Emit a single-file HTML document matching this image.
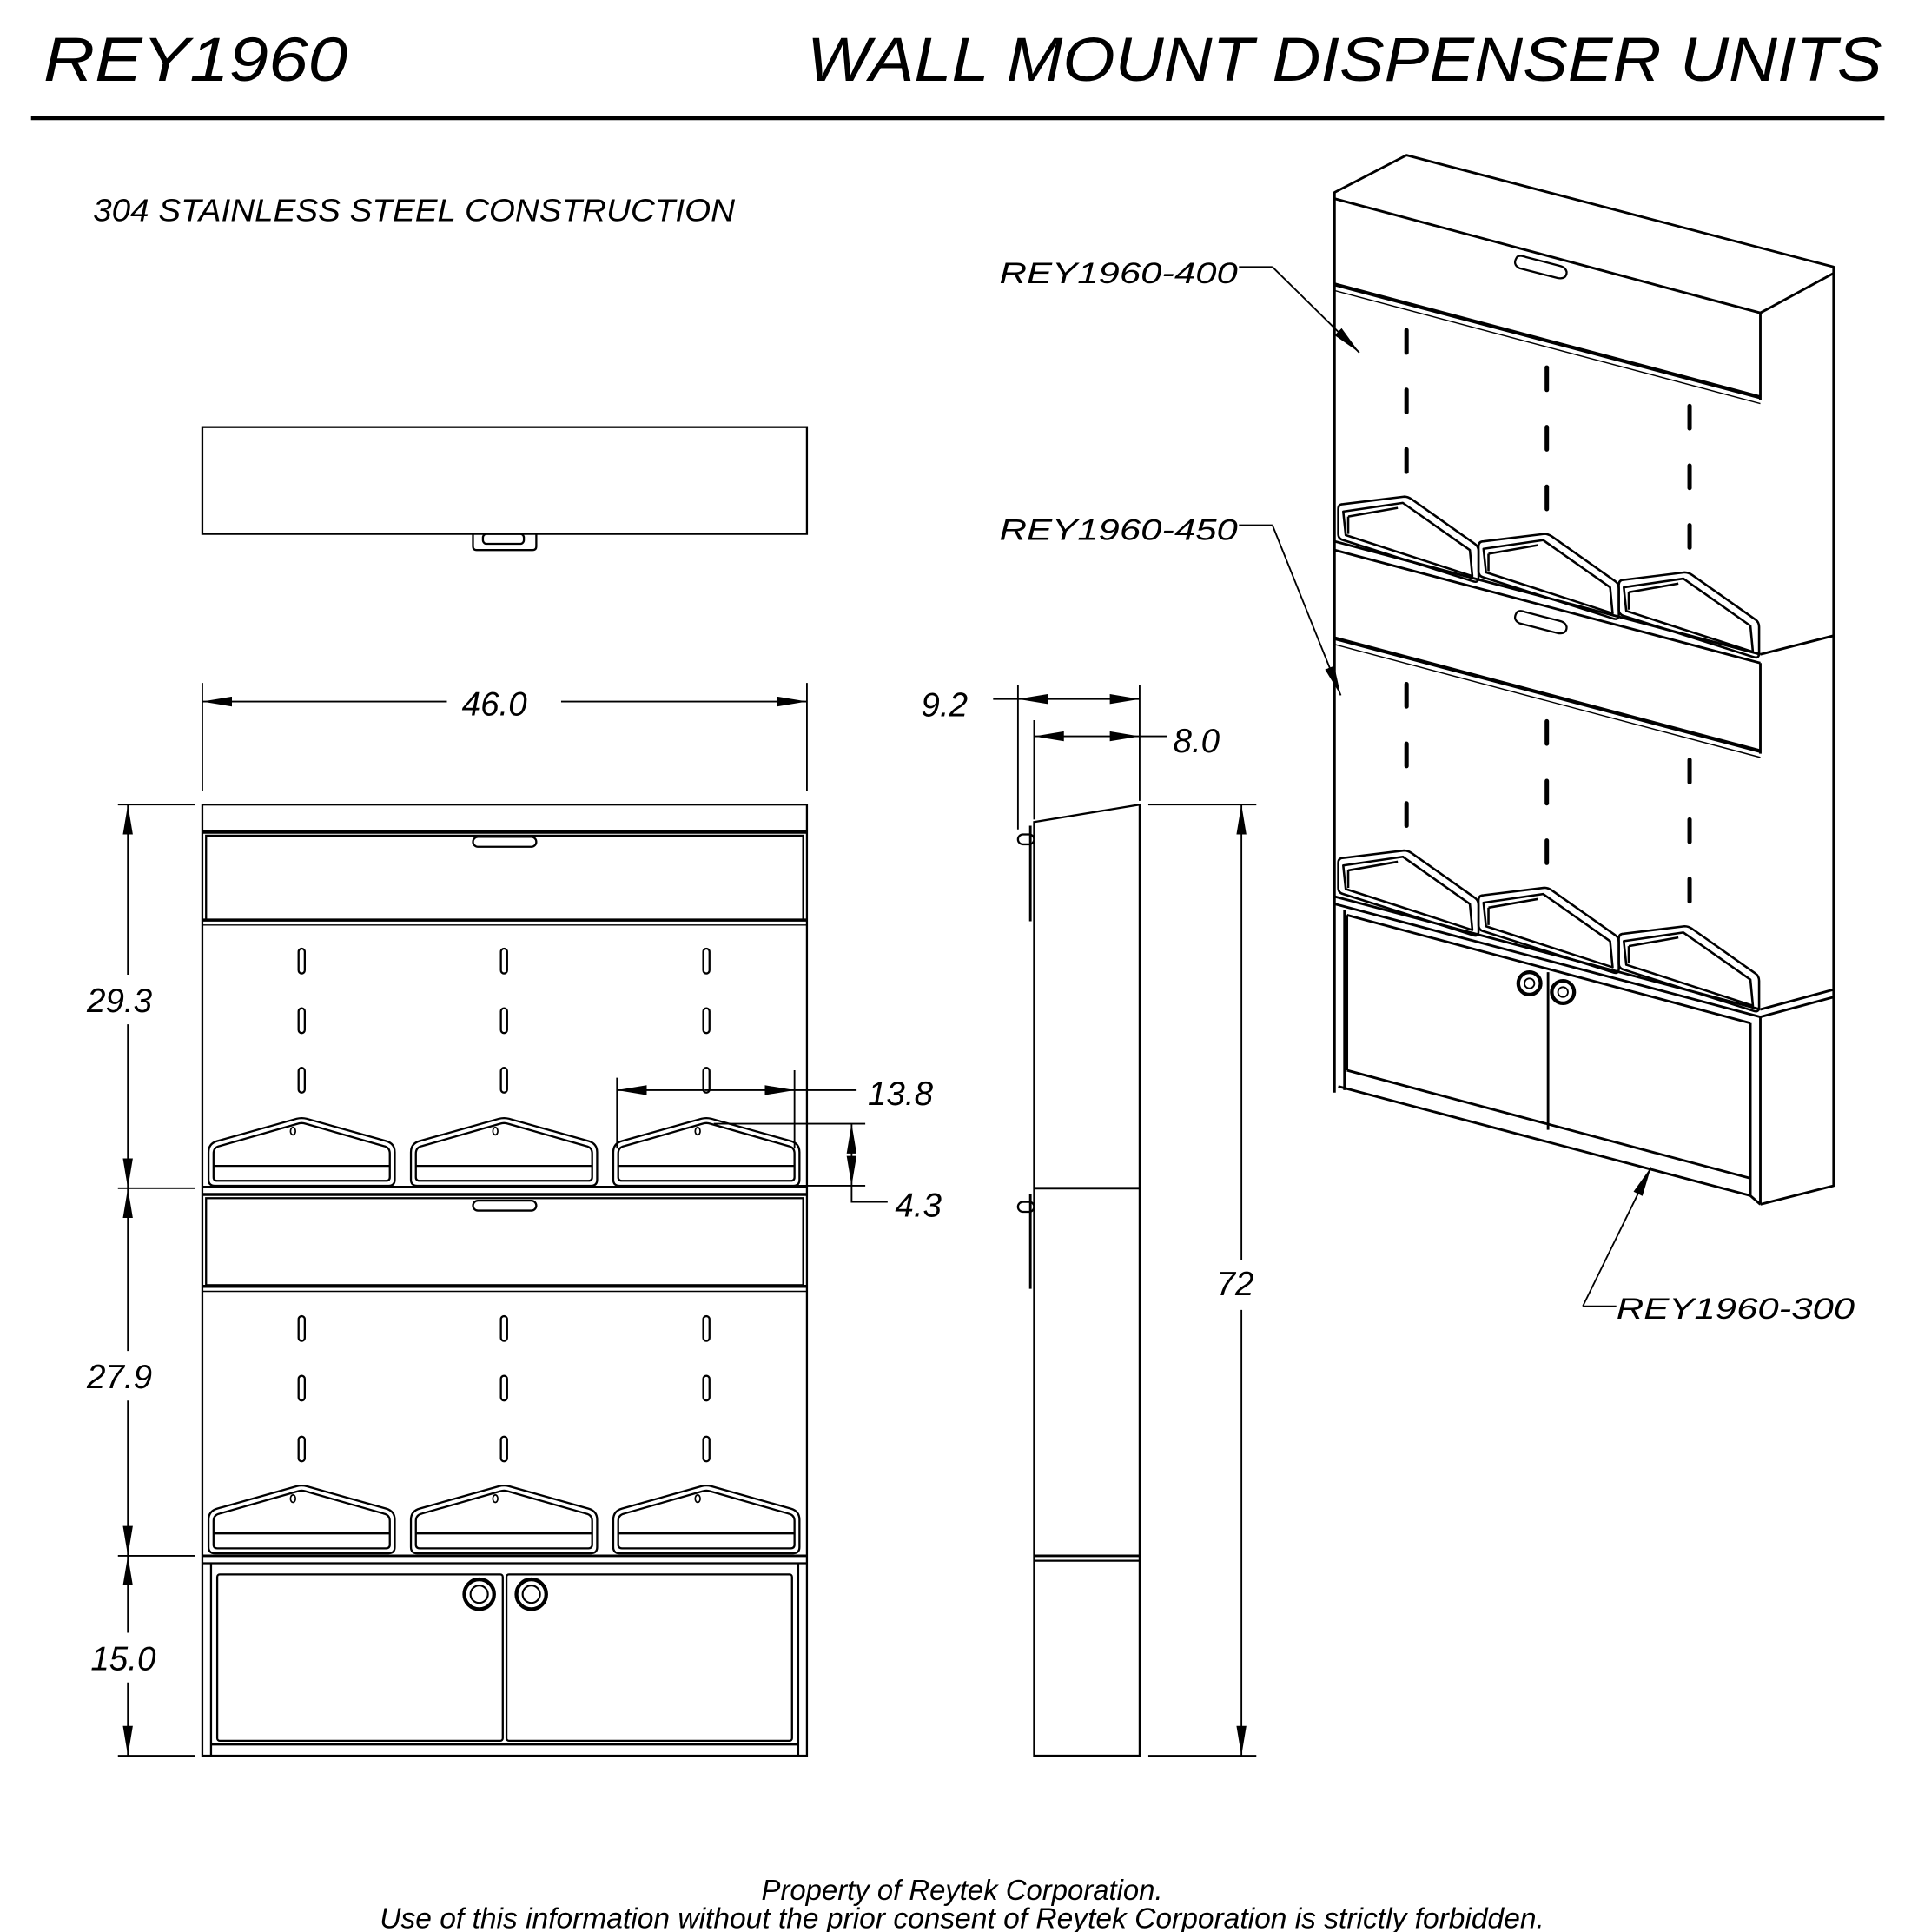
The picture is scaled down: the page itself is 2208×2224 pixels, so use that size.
<!DOCTYPE html>
<html><head><meta charset="utf-8"><style>
html,body{margin:0;padding:0;background:#fff;}
svg{display:block;}
text{font-family:"Liberation Sans",sans-serif;font-style:italic;fill:#000;}
</style></head><body>
<svg width="2208" height="2224" viewBox="0 0 1545 1556" preserveAspectRatio="none" xmlns="http://www.w3.org/2000/svg">
<defs>
<marker id="ar" viewBox="0 0 24 8" refX="24" refY="4" markerWidth="24" markerHeight="8" markerUnits="userSpaceOnUse" orient="auto-start-reverse">
<path d="M0,0 L24,4 L0,8 Z" fill="#000"/></marker>
<g id="tray" fill="none" stroke="#000">
<path d="M2,50 L2,28 Q2,21 9,19 L73,1 Q77,0 81,1 L145,19 Q152,21 152,28 L152,50 Q152,55 147,55 L7,55 Q2,55 2,50 Z" stroke-width="1.6"/>
<path d="M6,48 L6,29 Q6,24 11,23 L74,5 Q77,4 80,5 L143,23 Q148,24 148,29 L148,48 Q148,51 145,51 L9,51 Q6,51 6,48 Z" stroke-width="1.6"/>
<line x1="6" y1="39" x2="148" y2="39" stroke-width="1.6"/>
<ellipse cx="70" cy="11" rx="2" ry="3" stroke-width="1.2"/>
</g>
<g id="slot"><rect x="-2.5" y="0" width="5" height="20" rx="2.5" fill="none" stroke="#000" stroke-width="1.6"/></g>
<g id="itray" fill="none" stroke="#000" stroke-width="1.8" stroke-linejoin="round">
<path d="M2,10 Q2,6 6,6 L55,0 Q58,0 61,2 L112,38 Q115,40 115,44 L115,65 Q115,70 110,68 L6,35 Q2,34 2,30 Z"/>
<path d="M6,12 L54,5 L108,43 L110,64 L8,31 Z"/>
<path d="M10,16 L10,30 M10,16 L50,9"/>
</g>
<g id="islot" fill="none" stroke="#000" stroke-width="3.5" stroke-linecap="round">
<line x1="0" y1="0" x2="0" y2="18"/><line x1="0" y1="48" x2="0" y2="66"/><line x1="0" y1="96" x2="0" y2="114"/>
</g>
</defs>

<text x="35" y="65" font-size="50" textLength="245" lengthAdjust="spacingAndGlyphs">REY1960</text>
<text x="650" y="65" font-size="50" textLength="866" lengthAdjust="spacingAndGlyphs">WALL MOUNT DISPENSER UNITS</text>
<line x1="25" y1="95" x2="1518" y2="95" stroke="#000" stroke-width="3.5"/>
<text x="75" y="178" font-size="25" textLength="517" lengthAdjust="spacingAndGlyphs">304 STAINLESS STEEL CONSTRUCTION</text>

<g fill="none" stroke="#000" stroke-width="1.6">
<rect x="163" y="344" width="487" height="86"/>
<path d="M381,430 L381,440 Q381,443 384,443 L429,443 Q432,443 432,440 L432,430"/>
<rect x="389" y="430" width="33" height="8" rx="3"/>
</g>

<g fill="none" stroke="#000" stroke-width="1.6">
<rect x="163" y="648" width="487" height="766"/>
<line x1="163" y1="670" x2="650" y2="670" stroke-width="3"/>
<rect x="166" y="673" width="481" height="68"/>
<rect x="381" y="674" width="51" height="8" rx="4"/>
<line x1="163" y1="741" x2="650" y2="741" stroke-width="2.5"/>
<line x1="163" y1="745" x2="650" y2="745" stroke-width="1"/>
<line x1="163" y1="956" x2="650" y2="956" stroke-width="2"/>
<line x1="163" y1="962" x2="650" y2="962" stroke-width="2.5"/>
<rect x="166" y="965" width="481" height="70"/>
<rect x="381" y="967" width="51" height="8" rx="4"/>
<line x1="163" y1="1036" x2="650" y2="1036" stroke-width="2.5"/>
<line x1="163" y1="1040" x2="650" y2="1040" stroke-width="1"/>
<line x1="163" y1="1253" x2="650" y2="1253" stroke-width="2"/>
<line x1="163" y1="1259" x2="650" y2="1259" stroke-width="1.5"/>
<line x1="170" y1="1259" x2="170" y2="1414"/>
<line x1="643" y1="1259" x2="643" y2="1414"/>
<rect x="175" y="1268" width="230" height="134" rx="2"/>
<rect x="408" y="1268" width="230" height="134" rx="2"/>
<line x1="170" y1="1405" x2="643" y2="1405"/>
</g>
<g fill="none" stroke="#000">
<circle cx="386" cy="1284" r="12" stroke-width="3"/><circle cx="386" cy="1284" r="7" stroke-width="1.5"/>
<circle cx="428" cy="1284" r="12" stroke-width="3"/><circle cx="428" cy="1284" r="7" stroke-width="1.5"/>
</g>
<use href="#slot" x="243" y="764"/><use href="#slot" x="243" y="812"/><use href="#slot" x="243" y="860"/>
<use href="#slot" x="406" y="764"/><use href="#slot" x="406" y="812"/><use href="#slot" x="406" y="860"/>
<use href="#slot" x="569" y="764"/><use href="#slot" x="569" y="812"/><use href="#slot" x="569" y="860"/>
<use href="#slot" x="243" y="1060"/><use href="#slot" x="243" y="1108"/><use href="#slot" x="243" y="1157"/>
<use href="#slot" x="406" y="1060"/><use href="#slot" x="406" y="1108"/><use href="#slot" x="406" y="1157"/>
<use href="#slot" x="569" y="1060"/><use href="#slot" x="569" y="1108"/><use href="#slot" x="569" y="1157"/>
<use href="#tray" x="166" y="900"/><use href="#tray" x="329" y="900"/><use href="#tray" x="492" y="900"/>
<use href="#tray" x="166" y="1196"/><use href="#tray" x="329" y="1196"/><use href="#tray" x="492" y="1196"/>

<g stroke="#000" stroke-width="1.3" fill="none">
<line x1="163" y1="550" x2="163" y2="637"/><line x1="650" y1="550" x2="650" y2="637"/>
<line x1="163" y1="565" x2="360" y2="565" marker-start="url(#ar)"/>
<line x1="452" y1="565" x2="650" y2="565" marker-end="url(#ar)"/>
<line x1="95" y1="648" x2="157" y2="648"/><line x1="95" y1="957" x2="157" y2="957"/>
<line x1="95" y1="1253" x2="157" y2="1253"/><line x1="95" y1="1414" x2="157" y2="1414"/>
<line x1="103" y1="648" x2="103" y2="785" marker-start="url(#ar)"/>
<line x1="103" y1="825" x2="103" y2="957" marker-end="url(#ar)"/>
<line x1="103" y1="957" x2="103" y2="1088" marker-start="url(#ar)"/>
<line x1="103" y1="1128" x2="103" y2="1253" marker-end="url(#ar)"/>
<line x1="103" y1="1253" x2="103" y2="1315" marker-start="url(#ar)"/>
<line x1="103" y1="1355" x2="103" y2="1414" marker-end="url(#ar)"/>
<line x1="497" y1="868" x2="497" y2="925"/><line x1="640" y1="862" x2="640" y2="925"/>
<line x1="497" y1="878" x2="568" y2="878" marker-start="url(#ar)"/>
<line x1="568" y1="878" x2="640" y2="878" marker-end="url(#ar)"/>
<line x1="640" y1="878" x2="690" y2="878"/>
<line x1="575" y1="905" x2="697" y2="905"/><line x1="640" y1="955" x2="697" y2="955"/>
<line x1="686" y1="905" x2="686" y2="930" marker-start="url(#ar)"/>
<line x1="686" y1="930" x2="686" y2="955" marker-end="url(#ar)"/>
<polyline points="686,955 686,968 715,968"/>
</g>
<text x="372" y="576" font-size="27">46.0</text>
<text x="70" y="815" font-size="27">29.3</text>
<text x="70" y="1118" font-size="27">27.9</text>
<text x="73" y="1345" font-size="27">15.0</text>
<text x="699" y="890" font-size="27">13.8</text>
<text x="721" y="980" font-size="27">4.3</text>

<g fill="none" stroke="#000" stroke-width="1.6">
<polygon points="833,662 918,648 918,1414 833,1414"/>
<line x1="833" y1="957" x2="918" y2="957" stroke-width="2"/>
<line x1="833" y1="1253" x2="918" y2="1253" stroke-width="2"/>
<line x1="833" y1="1257" x2="918" y2="1257"/>
<line x1="830" y1="665" x2="830" y2="742" stroke-width="2"/>
<line x1="830" y1="962" x2="830" y2="1038" stroke-width="2"/>
<rect x="820" y="672" width="13" height="8" rx="4"/>
<rect x="820" y="968" width="13" height="8" rx="4"/>
</g>
<g stroke="#000" stroke-width="1.3" fill="none">
<line x1="820" y1="552" x2="820" y2="668"/><line x1="833" y1="580" x2="833" y2="660"/><line x1="918" y1="552" x2="918" y2="645"/>
<line x1="800" y1="563" x2="820" y2="563"/>
<line x1="820" y1="563" x2="918" y2="563" marker-start="url(#ar)" marker-end="url(#ar)"/>
<line x1="833" y1="593" x2="918" y2="593" marker-start="url(#ar)" marker-end="url(#ar)"/>
<line x1="918" y1="593" x2="940" y2="593"/>
<line x1="925" y1="648" x2="1012" y2="648"/><line x1="925" y1="1414" x2="1012" y2="1414"/>
<line x1="1000" y1="648" x2="1000" y2="1015" marker-start="url(#ar)"/>
<line x1="1000" y1="1055" x2="1000" y2="1414" marker-end="url(#ar)"/>
</g>
<text x="742" y="577" font-size="27">9.2</text>
<text x="945" y="606" font-size="27">8.0</text>
<text x="980" y="1043" font-size="27">72</text>

<g fill="none" stroke="#000" stroke-width="2" stroke-linejoin="round">
<polyline points="1075,880 1075,155 1133,125 1477,215 1477,955 1418,970"/>
<line x1="1075" y1="160" x2="1418" y2="252"/>
<line x1="1418" y1="252" x2="1477" y2="220"/>
<line x1="1418" y1="252" x2="1418" y2="322"/>
<line x1="1075" y1="229" x2="1418" y2="320" stroke-width="3"/>
<line x1="1075" y1="234" x2="1418" y2="325" stroke-width="1"/>
<path d="M1222,207 Q1218,213 1224,216 L1255,224 Q1262,225 1262,219 Q1261,215 1256,214 L1229,207 Q1224,205 1222,207 Z" stroke-width="1.6"/>
<line x1="1075" y1="436" x2="1418" y2="527"/>
<line x1="1075" y1="443" x2="1418" y2="534"/>
<polyline points="1418,527 1477,512"/>
<line x1="1418" y1="534" x2="1418" y2="607"/>
<line x1="1075" y1="514" x2="1418" y2="605" stroke-width="3"/>
<line x1="1075" y1="519" x2="1418" y2="610" stroke-width="1"/>
<path d="M1222,493 Q1218,499 1224,502 L1255,510 Q1262,511 1262,505 Q1261,501 1256,500 L1229,493 Q1224,491 1222,493 Z" stroke-width="1.6"/>
<line x1="1075" y1="722" x2="1418" y2="813"/>
<line x1="1075" y1="728" x2="1418" y2="819"/>
<line x1="1418" y1="813" x2="1477" y2="797"/>
<line x1="1418" y1="819" x2="1477" y2="803"/>
<line x1="1083" y1="733" x2="1083" y2="878"/>
<line x1="1085" y1="737" x2="1410" y2="824"/>
<line x1="1085" y1="737" x2="1085" y2="862"/>
<line x1="1085" y1="862" x2="1410" y2="949"/>
<line x1="1078" y1="875" x2="1410" y2="963"/>
<line x1="1410" y1="824" x2="1410" y2="963"/>
<line x1="1418" y1="819" x2="1418" y2="970"/>
<line x1="1410" y1="963" x2="1418" y2="970"/>
<line x1="1247" y1="783" x2="1247" y2="910"/>
<circle cx="1232" cy="792" r="9" stroke-width="3"/><circle cx="1232" cy="792" r="4" stroke-width="1.3"/>
<circle cx="1259" cy="799" r="9" stroke-width="3"/><circle cx="1259" cy="799" r="4" stroke-width="1.3"/>
</g>
<use href="#islot" x="1133" y="266"/><use href="#islot" x="1246" y="296"/><use href="#islot" x="1361" y="327"/>
<use href="#islot" x="1133" y="551"/><use href="#islot" x="1246" y="581"/><use href="#islot" x="1361" y="612"/>
<use href="#itray" x="1076" y="400"/><use href="#itray" x="1189" y="430"/><use href="#itray" x="1302" y="461"/>
<use href="#itray" x="1076" y="685"/><use href="#itray" x="1189" y="715"/><use href="#itray" x="1302" y="746"/>

<g stroke="#000" stroke-width="1.3" fill="none">
<polyline points="998,215 1025,215"/><line x1="1025" y1="215" x2="1095" y2="284" marker-end="url(#ar)"/>
<polyline points="998,423 1025,423"/><line x1="1025" y1="423" x2="1080" y2="560" marker-end="url(#ar)"/>
<polyline points="1302,1052 1275,1052"/><line x1="1275" y1="1052" x2="1330" y2="940" marker-end="url(#ar)"/>
</g>
<text x="805" y="228" font-size="24" textLength="192" lengthAdjust="spacingAndGlyphs">REY1960-400</text>
<text x="805" y="435" font-size="24" textLength="192" lengthAdjust="spacingAndGlyphs">REY1960-450</text>
<text x="1302" y="1062" font-size="24" textLength="192" lengthAdjust="spacingAndGlyphs">REY1960-300</text>

<text x="775" y="1530" font-size="23" text-anchor="middle">Property of Reytek Corporation.</text>
<text x="306" y="1553" font-size="23" textLength="938" lengthAdjust="spacingAndGlyphs">Use of this information without the prior consent of Reytek Corporation is strictly forbidden.</text>
</svg>
</body></html>
